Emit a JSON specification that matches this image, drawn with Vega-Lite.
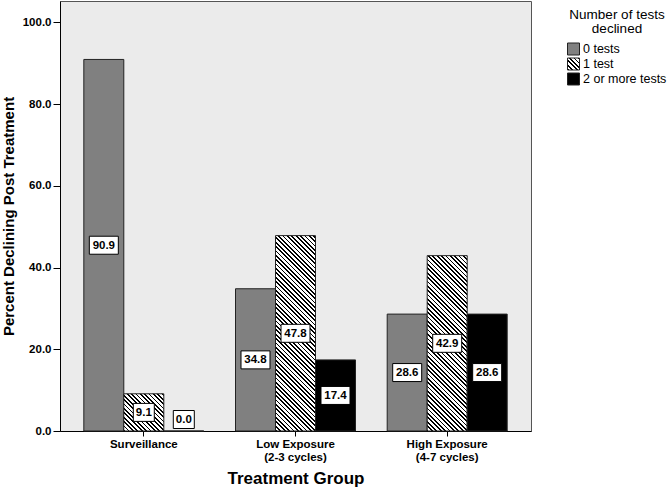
{
  "$schema": "https://vega.github.io/schema/vega-lite/v6.json",
  "autosize": {"type": "none"},
  "padding": {"left": 60, "top": 1, "right": 139, "bottom": 57},
  "width": 471,
  "height": 430,
  "background": "white",
  "config": {
    "font": "Liberation Sans",
    "view": {"fill": "#ebebeb", "stroke": "#555555", "strokeWidth": 1}
  },
  "params": [
    {"name": "hatch", "value": [
      {"offset":0,"color":"#000"},{"offset":0.0073,"color":"#000"},{"offset":0.0073,"color":"#fff"},{"offset":0.0182,"color":"#fff"},
      {"offset":0.0182,"color":"#000"},{"offset":0.0255,"color":"#000"},{"offset":0.0255,"color":"#fff"},{"offset":0.0364,"color":"#fff"},
      {"offset":0.0364,"color":"#000"},{"offset":0.0436,"color":"#000"},{"offset":0.0436,"color":"#fff"},{"offset":0.0545,"color":"#fff"},
      {"offset":0.0545,"color":"#000"},{"offset":0.0618,"color":"#000"},{"offset":0.0618,"color":"#fff"},{"offset":0.0727,"color":"#fff"},
      {"offset":0.0727,"color":"#000"},{"offset":0.0800,"color":"#000"},{"offset":0.0800,"color":"#fff"},{"offset":0.0909,"color":"#fff"},
      {"offset":0.0909,"color":"#000"},{"offset":0.0982,"color":"#000"},{"offset":0.0982,"color":"#fff"},{"offset":0.1091,"color":"#fff"},
      {"offset":0.1091,"color":"#000"},{"offset":0.1164,"color":"#000"},{"offset":0.1164,"color":"#fff"},{"offset":0.1273,"color":"#fff"},
      {"offset":0.1273,"color":"#000"},{"offset":0.1345,"color":"#000"},{"offset":0.1345,"color":"#fff"},{"offset":0.1455,"color":"#fff"},
      {"offset":0.1455,"color":"#000"},{"offset":0.1527,"color":"#000"},{"offset":0.1527,"color":"#fff"},{"offset":0.1636,"color":"#fff"},
      {"offset":0.1636,"color":"#000"},{"offset":0.1709,"color":"#000"},{"offset":0.1709,"color":"#fff"},{"offset":0.1818,"color":"#fff"},
      {"offset":0.1818,"color":"#000"},{"offset":0.1891,"color":"#000"},{"offset":0.1891,"color":"#fff"},{"offset":0.2000,"color":"#fff"},
      {"offset":0.2000,"color":"#000"},{"offset":0.2073,"color":"#000"},{"offset":0.2073,"color":"#fff"},{"offset":0.2182,"color":"#fff"},
      {"offset":0.2182,"color":"#000"},{"offset":0.2255,"color":"#000"},{"offset":0.2255,"color":"#fff"},{"offset":0.2364,"color":"#fff"},
      {"offset":0.2364,"color":"#000"},{"offset":0.2436,"color":"#000"},{"offset":0.2436,"color":"#fff"},{"offset":0.2545,"color":"#fff"},
      {"offset":0.2545,"color":"#000"},{"offset":0.2618,"color":"#000"},{"offset":0.2618,"color":"#fff"},{"offset":0.2727,"color":"#fff"},
      {"offset":0.2727,"color":"#000"},{"offset":0.2800,"color":"#000"},{"offset":0.2800,"color":"#fff"},{"offset":0.2909,"color":"#fff"},
      {"offset":0.2909,"color":"#000"},{"offset":0.2982,"color":"#000"},{"offset":0.2982,"color":"#fff"},{"offset":0.3091,"color":"#fff"},
      {"offset":0.3091,"color":"#000"},{"offset":0.3164,"color":"#000"},{"offset":0.3164,"color":"#fff"},{"offset":0.3273,"color":"#fff"},
      {"offset":0.3273,"color":"#000"},{"offset":0.3345,"color":"#000"},{"offset":0.3345,"color":"#fff"},{"offset":0.3455,"color":"#fff"},
      {"offset":0.3455,"color":"#000"},{"offset":0.3527,"color":"#000"},{"offset":0.3527,"color":"#fff"},{"offset":0.3636,"color":"#fff"},
      {"offset":0.3636,"color":"#000"},{"offset":0.3709,"color":"#000"},{"offset":0.3709,"color":"#fff"},{"offset":0.3818,"color":"#fff"},
      {"offset":0.3818,"color":"#000"},{"offset":0.3891,"color":"#000"},{"offset":0.3891,"color":"#fff"},{"offset":0.4000,"color":"#fff"},
      {"offset":0.4000,"color":"#000"},{"offset":0.4073,"color":"#000"},{"offset":0.4073,"color":"#fff"},{"offset":0.4182,"color":"#fff"},
      {"offset":0.4182,"color":"#000"},{"offset":0.4255,"color":"#000"},{"offset":0.4255,"color":"#fff"},{"offset":0.4364,"color":"#fff"},
      {"offset":0.4364,"color":"#000"},{"offset":0.4436,"color":"#000"},{"offset":0.4436,"color":"#fff"},{"offset":0.4545,"color":"#fff"},
      {"offset":0.4545,"color":"#000"},{"offset":0.4618,"color":"#000"},{"offset":0.4618,"color":"#fff"},{"offset":0.4727,"color":"#fff"},
      {"offset":0.4727,"color":"#000"},{"offset":0.4800,"color":"#000"},{"offset":0.4800,"color":"#fff"},{"offset":0.4909,"color":"#fff"},
      {"offset":0.4909,"color":"#000"},{"offset":0.4982,"color":"#000"},{"offset":0.4982,"color":"#fff"},{"offset":0.5091,"color":"#fff"},
      {"offset":0.5091,"color":"#000"},{"offset":0.5164,"color":"#000"},{"offset":0.5164,"color":"#fff"},{"offset":0.5273,"color":"#fff"},
      {"offset":0.5273,"color":"#000"},{"offset":0.5345,"color":"#000"},{"offset":0.5345,"color":"#fff"},{"offset":0.5455,"color":"#fff"},
      {"offset":0.5455,"color":"#000"},{"offset":0.5527,"color":"#000"},{"offset":0.5527,"color":"#fff"},{"offset":0.5636,"color":"#fff"},
      {"offset":0.5636,"color":"#000"},{"offset":0.5709,"color":"#000"},{"offset":0.5709,"color":"#fff"},{"offset":0.5818,"color":"#fff"},
      {"offset":0.5818,"color":"#000"},{"offset":0.5891,"color":"#000"},{"offset":0.5891,"color":"#fff"},{"offset":0.6000,"color":"#fff"},
      {"offset":0.6000,"color":"#000"},{"offset":0.6073,"color":"#000"},{"offset":0.6073,"color":"#fff"},{"offset":0.6182,"color":"#fff"},
      {"offset":0.6182,"color":"#000"},{"offset":0.6255,"color":"#000"},{"offset":0.6255,"color":"#fff"},{"offset":0.6364,"color":"#fff"},
      {"offset":0.6364,"color":"#000"},{"offset":0.6436,"color":"#000"},{"offset":0.6436,"color":"#fff"},{"offset":0.6545,"color":"#fff"},
      {"offset":0.6545,"color":"#000"},{"offset":0.6618,"color":"#000"},{"offset":0.6618,"color":"#fff"},{"offset":0.6727,"color":"#fff"},
      {"offset":0.6727,"color":"#000"},{"offset":0.6800,"color":"#000"},{"offset":0.6800,"color":"#fff"},{"offset":0.6909,"color":"#fff"},
      {"offset":0.6909,"color":"#000"},{"offset":0.6982,"color":"#000"},{"offset":0.6982,"color":"#fff"},{"offset":0.7091,"color":"#fff"},
      {"offset":0.7091,"color":"#000"},{"offset":0.7164,"color":"#000"},{"offset":0.7164,"color":"#fff"},{"offset":0.7273,"color":"#fff"},
      {"offset":0.7273,"color":"#000"},{"offset":0.7345,"color":"#000"},{"offset":0.7345,"color":"#fff"},{"offset":0.7455,"color":"#fff"},
      {"offset":0.7455,"color":"#000"},{"offset":0.7527,"color":"#000"},{"offset":0.7527,"color":"#fff"},{"offset":0.7636,"color":"#fff"},
      {"offset":0.7636,"color":"#000"},{"offset":0.7709,"color":"#000"},{"offset":0.7709,"color":"#fff"},{"offset":0.7818,"color":"#fff"},
      {"offset":0.7818,"color":"#000"},{"offset":0.7891,"color":"#000"},{"offset":0.7891,"color":"#fff"},{"offset":0.8000,"color":"#fff"},
      {"offset":0.8000,"color":"#000"},{"offset":0.8073,"color":"#000"},{"offset":0.8073,"color":"#fff"},{"offset":0.8182,"color":"#fff"},
      {"offset":0.8182,"color":"#000"},{"offset":0.8255,"color":"#000"},{"offset":0.8255,"color":"#fff"},{"offset":0.8364,"color":"#fff"},
      {"offset":0.8364,"color":"#000"},{"offset":0.8436,"color":"#000"},{"offset":0.8436,"color":"#fff"},{"offset":0.8545,"color":"#fff"},
      {"offset":0.8545,"color":"#000"},{"offset":0.8618,"color":"#000"},{"offset":0.8618,"color":"#fff"},{"offset":0.8727,"color":"#fff"},
      {"offset":0.8727,"color":"#000"},{"offset":0.8800,"color":"#000"},{"offset":0.8800,"color":"#fff"},{"offset":0.8909,"color":"#fff"},
      {"offset":0.8909,"color":"#000"},{"offset":0.8982,"color":"#000"},{"offset":0.8982,"color":"#fff"},{"offset":0.9091,"color":"#fff"},
      {"offset":0.9091,"color":"#000"},{"offset":0.9164,"color":"#000"},{"offset":0.9164,"color":"#fff"},{"offset":0.9273,"color":"#fff"},
      {"offset":0.9273,"color":"#000"},{"offset":0.9345,"color":"#000"},{"offset":0.9345,"color":"#fff"},{"offset":0.9455,"color":"#fff"},
      {"offset":0.9455,"color":"#000"},{"offset":0.9527,"color":"#000"},{"offset":0.9527,"color":"#fff"},{"offset":0.9636,"color":"#fff"},
      {"offset":0.9636,"color":"#000"},{"offset":0.9709,"color":"#000"},{"offset":0.9709,"color":"#fff"},{"offset":0.9818,"color":"#fff"},
      {"offset":0.9818,"color":"#000"},{"offset":0.9891,"color":"#000"},{"offset":0.9891,"color":"#fff"},{"offset":1,"color":"#fff"}
    ]}
  ],
  "data": {"values": [
    {"group": "Surveillance", "tests": "0 tests", "value": 90.9},
    {"group": "Surveillance", "tests": "1 test", "value": 9.1},
    {"group": "Surveillance", "tests": "2 or more tests", "value": 0.0},
    {"group": "Low Exposure (2-3 cycles)", "tests": "0 tests", "value": 34.8},
    {"group": "Low Exposure (2-3 cycles)", "tests": "1 test", "value": 47.8},
    {"group": "Low Exposure (2-3 cycles)", "tests": "2 or more tests", "value": 17.4},
    {"group": "High Exposure (4-7 cycles)", "tests": "0 tests", "value": 28.6},
    {"group": "High Exposure (4-7 cycles)", "tests": "1 test", "value": 42.9},
    {"group": "High Exposure (4-7 cycles)", "tests": "2 or more tests", "value": 28.6}
  ]},
  "encoding": {
    "x": {
      "field": "group", "type": "nominal", "sort": null,
      "scale": {"paddingInner": 0.209, "paddingOuter": 0.157},
      "axis": {
        "title": "Treatment Group", "titleFontSize": 17, "titleFontWeight": "bold", "titleColor": "black", "titlePadding": 8,
        "labelAngle": 0, "labelFontWeight": "bold", "labelFontSize": 11.5, "labelColor": "black", "labelPadding": 2,
        "labelExpr": "split(replace(datum.label, ' (', '|('), '|')", "labelLineHeight": 13,
        "tickSize": 5, "tickColor": "black", "domainColor": "black"
      }
    },
    "xOffset": {"field": "tests", "type": "nominal", "sort": null}
  },
  "layer": [
    {
      "mark": {"type": "bar", "stroke": "#222222", "strokeWidth": 1},
      "encoding": {
        "y": {
          "field": "value", "type": "quantitative",
          "scale": {"domain": [0, 105.2], "nice": false, "zero": true},
          "axis": {
            "title": "Percent Declining Post Treatment", "titleFontSize": 15, "titleFontWeight": "bold", "titleColor": "black", "titlePadding": 6,
            "values": [0, 20, 40, 60, 80, 100], "format": ".1f", "grid": false,
            "labelFontWeight": "bold", "labelFontSize": 11.5, "labelColor": "black", "labelPadding": 2, "labelFlush": false, "labelOverlap": false,
            "tickSize": 7, "tickColor": "black", "domainColor": "black"
          }
        },
        "color": {
          "condition": [
            {"test": "datum.group === 'Surveillance' && datum.tests === '1 test'", "value": {"expr": "{gradient: 'linear', x1: 0, y1: 1, x2: 3.2324, y2: -2.0061, stops: hatch}"}},
            {"test": "datum.group === 'Low Exposure (2-3 cycles)' && datum.tests === '1 test'", "value": {"expr": "{gradient: 'linear', x1: 0, y1: 1, x2: 0.24245, y2: -0.18436, stops: hatch}"}},
            {"test": "datum.group === 'High Exposure (4-7 cycles)' && datum.tests === '1 test'", "value": {"expr": "{gradient: 'linear', x1: 0, y1: 1, x2: 0.29800, y2: -0.30673, stops: hatch}"}}
          ],
          "field": "tests", "type": "nominal", "sort": null,
          "scale": {
            "domain": ["0 tests", "1 test", "2 or more tests"],
            "range": ["#808080", {"expr": "{gradient: 'linear', x1: 0, y1: 1, x2: 10.047, y2: -9.047, stops: hatch}"}, "#000000"]
          },
          "legend": {
            "title": ["Number of tests", "declined"], "orient": "none", "legendX": 507, "legendY": 7,
            "titleFontSize": 13.5, "titleFontWeight": "normal", "titleColor": "black", "titleAlign": "center", "titleAnchor": "middle",
            "titleLineHeight": 14, "titlePadding": 7,
            "labelFontSize": 12.5, "labelColor": "black", "labelOffset": 3,
            "symbolType": "square", "symbolSize": 144, "symbolStrokeColor": "#222222", "symbolStrokeWidth": 1,
            "rowPadding": -5.5, "padding": 0
          }
        }
      }
    },
    {
      "transform": [{"filter": "datum.value > 0"}],
      "mark": {"type": "point", "filled": true, "fill": "white", "stroke": "black", "strokeWidth": 1, "size": 100, "opacity": 1},
      "encoding": {
        "y": {"field": "value", "type": "quantitative", "scale": {"domain": [0, 210.4], "nice": false, "zero": true}, "axis": null},
        "shape": {"condition": {"test": "datum.value < 10", "value": "M-2.1,-1.8H2.1V1.8H-2.1Z"}, "value": "M-2.9,-1.8H2.9V1.8H-2.9Z"}
      }
    },
    {
      "transform": [{"filter": "datum.value > 0"}],
      "mark": {"type": "text", "fontWeight": "bold", "fontSize": 11.5, "baseline": "middle", "align": "center", "color": "black", "dy": 0.5},
      "encoding": {
        "y": {"field": "value", "type": "quantitative", "scale": {"domain": [0, 210.4], "nice": false, "zero": true}, "axis": null},
        "text": {"field": "value", "type": "quantitative", "format": ".1f"}
      }
    },
    {
      "transform": [{"filter": "datum.value === 0"}],
      "mark": {"type": "point", "filled": true, "fill": "white", "stroke": "black", "strokeWidth": 1, "size": 100, "opacity": 1, "shape": "M-2.1,-1.8H2.1V1.8H-2.1Z", "yOffset": -11.5},
      "encoding": {
        "y": {"field": "value", "type": "quantitative", "scale": {"domain": [0, 210.4], "nice": false, "zero": true}, "axis": null}
      }
    },
    {
      "transform": [{"filter": "datum.value === 0"}],
      "mark": {"type": "text", "fontWeight": "bold", "fontSize": 11.5, "baseline": "middle", "align": "center", "color": "black", "yOffset": -11},
      "encoding": {
        "y": {"field": "value", "type": "quantitative", "scale": {"domain": [0, 210.4], "nice": false, "zero": true}, "axis": null},
        "text": {"field": "value", "type": "quantitative", "format": ".1f"}
      }
    }
  ],
  "resolve": {"scale": {"y": "independent"}}
}
